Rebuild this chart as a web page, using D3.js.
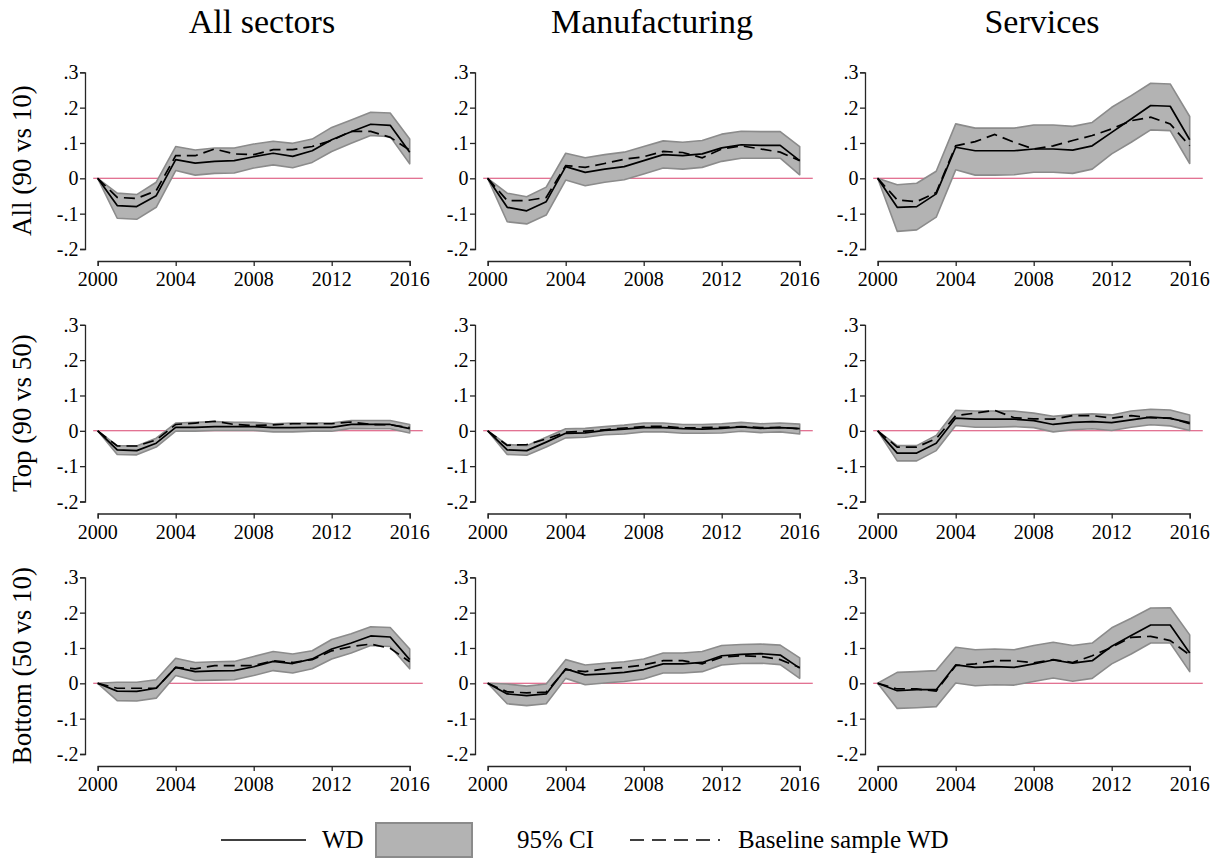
<!DOCTYPE html>
<html>
<head>
<meta charset="utf-8">
<script src="https://cdn.jsdelivr.net/npm/d3@7"></script>
<style>
  body { margin: 0; background: #fff; }
  svg { display: block; }
  text { font-family: "Liberation Serif", "Times New Roman", serif; fill: #000; }
</style>
</head>
<body>
<svg id="chart" width="1220" height="861"></svg>
<script>
// ---- categories and labels ----
const years = [2000, 2001, 2002, 2003, 2004, 2005, 2006, 2007, 2008, 2009, 2010, 2011, 2012, 2013, 2014, 2015, 2016];
const sectors = ["All sectors", "Manufacturing", "Services"];
const gaps = ["All (90 vs 10)", "Top (90 vs 50)", "Bottom (50 vs 10)"];
const yTickValues = [-0.2, -0.1, 0, 0.1, 0.2, 0.3];
const yTickLabels = ["-.2", "-.1", "0", ".1", ".2", ".3"];
const xTickValues = [2000, 2004, 2008, 2012, 2016];
const xTickLabels = ["2000", "2004", "2008", "2012", "2016"];
const legendLabels = ["WD", "95% CI", "Baseline sample WD"];

// ---- All (90 vs 10) ----
const wdAllTotal   = [0, -0.077, -0.080, -0.049, 0.053, 0.043, 0.048, 0.050, 0.061, 0.071, 0.062, 0.078, 0.109, 0.132, 0.153, 0.150, 0.074];
const baseAllTotal = [0, -0.054, -0.057, -0.035, 0.064, 0.064, 0.083, 0.069, 0.067, 0.081, 0.081, 0.090, 0.107, 0.133, 0.133, 0.116, 0.080];
const loAllTotal   = [0, -0.113, -0.116, -0.082, 0.022, 0.009, 0.014, 0.015, 0.029, 0.038, 0.030, 0.045, 0.076, 0.099, 0.121, 0.118, 0.041];
const hiAllTotal   = [0, -0.042, -0.046, -0.011, 0.090, 0.080, 0.086, 0.086, 0.097, 0.105, 0.099, 0.111, 0.144, 0.165, 0.187, 0.185, 0.111];

const wdAllManuf   = [0, -0.082, -0.092, -0.066, 0.033, 0.017, 0.026, 0.033, 0.050, 0.067, 0.064, 0.069, 0.086, 0.095, 0.093, 0.093, 0.050];
const baseAllManuf = [0, -0.063, -0.063, -0.054, 0.036, 0.031, 0.042, 0.054, 0.061, 0.076, 0.073, 0.058, 0.083, 0.092, 0.083, 0.074, 0.050];
const loAllManuf   = [0, -0.123, -0.129, -0.104, -0.005, -0.021, -0.011, -0.004, 0.012, 0.029, 0.026, 0.031, 0.048, 0.057, 0.057, 0.057, 0.010];
const hiAllManuf   = [0, -0.042, -0.052, -0.025, 0.071, 0.058, 0.067, 0.074, 0.090, 0.106, 0.102, 0.107, 0.125, 0.133, 0.132, 0.132, 0.090];

const wdAllServ    = [0, -0.082, -0.080, -0.044, 0.088, 0.078, 0.078, 0.078, 0.083, 0.083, 0.080, 0.092, 0.130, 0.168, 0.206, 0.204, 0.109];
const baseAllServ  = [0, -0.061, -0.066, -0.040, 0.092, 0.104, 0.124, 0.102, 0.083, 0.092, 0.107, 0.121, 0.140, 0.163, 0.173, 0.154, 0.092];
const loAllServ    = [0, -0.150, -0.146, -0.110, 0.024, 0.009, 0.009, 0.010, 0.017, 0.017, 0.014, 0.026, 0.069, 0.102, 0.137, 0.135, 0.042];
const hiAllServ    = [0, -0.018, -0.014, 0.020, 0.154, 0.142, 0.142, 0.142, 0.151, 0.151, 0.147, 0.158, 0.201, 0.234, 0.269, 0.267, 0.175];

// ---- Top (90 vs 50) ----
const wdTopTotal   = [0, -0.054, -0.056, -0.035, 0.010, 0.010, 0.012, 0.012, 0.012, 0.009, 0.009, 0.010, 0.010, 0.018, 0.018, 0.018, 0.006];
const baseTopTotal = [0, -0.043, -0.043, -0.026, 0.018, 0.022, 0.027, 0.018, 0.015, 0.017, 0.020, 0.020, 0.020, 0.025, 0.018, 0.017, 0.009];
const loTopTotal   = [0, -0.067, -0.068, -0.046, -0.001, -0.001, 0.001, 0.001, 0.001, -0.003, -0.003, -0.001, -0.001, 0.007, 0.006, 0.006, -0.006];
const hiTopTotal   = [0, -0.042, -0.043, -0.021, 0.022, 0.024, 0.026, 0.024, 0.024, 0.020, 0.022, 0.022, 0.022, 0.029, 0.029, 0.029, 0.018];

const wdTopManuf   = [0, -0.054, -0.056, -0.032, -0.007, -0.006, 0.001, 0.005, 0.009, 0.009, 0.006, 0.005, 0.007, 0.011, 0.007, 0.009, 0.006];
const baseTopManuf = [0, -0.041, -0.039, -0.023, -0.004, -0.001, 0.003, 0.008, 0.012, 0.013, 0.008, 0.009, 0.010, 0.012, 0.009, 0.010, 0.006];
const loTopManuf   = [0, -0.067, -0.069, -0.046, -0.020, -0.018, -0.011, -0.009, -0.003, -0.003, -0.007, -0.007, -0.006, -0.001, -0.005, -0.003, -0.009];
const hiTopManuf   = [0, -0.039, -0.042, -0.018, 0.006, 0.007, 0.012, 0.016, 0.022, 0.022, 0.018, 0.018, 0.020, 0.024, 0.020, 0.022, 0.019];

const wdTopServ    = [0, -0.063, -0.063, -0.035, 0.036, 0.033, 0.033, 0.033, 0.029, 0.018, 0.024, 0.026, 0.023, 0.031, 0.039, 0.035, 0.023];
const baseTopServ  = [0, -0.046, -0.046, -0.022, 0.043, 0.050, 0.058, 0.037, 0.034, 0.033, 0.043, 0.043, 0.036, 0.043, 0.037, 0.036, 0.020];
const loTopServ    = [0, -0.085, -0.085, -0.056, 0.015, 0.010, 0.010, 0.012, 0.009, -0.003, 0.003, 0.006, 0.001, 0.010, 0.017, 0.014, 0.001];
const hiTopServ    = [0, -0.042, -0.042, -0.013, 0.058, 0.056, 0.056, 0.056, 0.050, 0.041, 0.046, 0.048, 0.045, 0.056, 0.061, 0.059, 0.045];

// ---- Bottom (50 vs 10) ----
const wdBotTotal   = [0, -0.022, -0.023, -0.014, 0.045, 0.033, 0.035, 0.036, 0.047, 0.062, 0.056, 0.069, 0.097, 0.114, 0.134, 0.131, 0.067];
const baseBotTotal = [0, -0.014, -0.014, -0.014, 0.045, 0.041, 0.050, 0.050, 0.050, 0.064, 0.059, 0.067, 0.092, 0.104, 0.111, 0.099, 0.061];
const loBotTotal   = [0, -0.049, -0.050, -0.042, 0.022, 0.008, 0.009, 0.010, 0.022, 0.036, 0.029, 0.041, 0.069, 0.086, 0.107, 0.104, 0.041];
const hiBotTotal   = [0, 0.003, 0.003, 0.010, 0.071, 0.059, 0.061, 0.062, 0.076, 0.090, 0.083, 0.092, 0.124, 0.140, 0.160, 0.158, 0.097];

const wdBotManuf   = [0, -0.030, -0.035, -0.030, 0.041, 0.024, 0.027, 0.031, 0.039, 0.055, 0.055, 0.059, 0.078, 0.082, 0.084, 0.080, 0.043];
const baseBotManuf = [0, -0.024, -0.027, -0.025, 0.039, 0.033, 0.041, 0.045, 0.052, 0.064, 0.064, 0.055, 0.074, 0.078, 0.076, 0.067, 0.045];
const loBotManuf   = [0, -0.058, -0.063, -0.058, 0.014, -0.004, 0.001, 0.005, 0.012, 0.029, 0.029, 0.033, 0.052, 0.056, 0.057, 0.053, 0.014];
const hiBotManuf   = [0, -0.002, -0.008, -0.002, 0.067, 0.052, 0.057, 0.061, 0.069, 0.086, 0.086, 0.090, 0.107, 0.110, 0.111, 0.108, 0.072];

const wdBotServ    = [0, -0.021, -0.018, -0.018, 0.052, 0.045, 0.047, 0.045, 0.055, 0.066, 0.057, 0.064, 0.105, 0.135, 0.165, 0.165, 0.086];
const baseBotServ  = [0, -0.016, -0.016, -0.022, 0.050, 0.055, 0.064, 0.064, 0.058, 0.067, 0.059, 0.078, 0.102, 0.130, 0.133, 0.121, 0.080];
const loBotServ    = [0, -0.071, -0.069, -0.066, 0.001, -0.007, -0.004, -0.005, 0.005, 0.015, 0.006, 0.014, 0.055, 0.083, 0.114, 0.114, 0.033];
const hiBotServ    = [0, 0.031, 0.033, 0.036, 0.102, 0.095, 0.097, 0.095, 0.107, 0.116, 0.107, 0.114, 0.157, 0.184, 0.213, 0.214, 0.137];

// panel grid: rows = gap measure, columns = sector
const panels = [
  [{ wd: wdAllTotal, base: baseAllTotal, lo: loAllTotal, hi: hiAllTotal },
   { wd: wdAllManuf, base: baseAllManuf, lo: loAllManuf, hi: hiAllManuf },
   { wd: wdAllServ,  base: baseAllServ,  lo: loAllServ,  hi: hiAllServ }],
  [{ wd: wdTopTotal, base: baseTopTotal, lo: loTopTotal, hi: hiTopTotal },
   { wd: wdTopManuf, base: baseTopManuf, lo: loTopManuf, hi: hiTopManuf },
   { wd: wdTopServ,  base: baseTopServ,  lo: loTopServ,  hi: hiTopServ }],
  [{ wd: wdBotTotal, base: baseBotTotal, lo: loBotTotal, hi: hiBotTotal },
   { wd: wdBotManuf, base: baseBotManuf, lo: loBotManuf, hi: hiBotManuf },
   { wd: wdBotServ,  base: baseBotServ,  lo: loBotServ,  hi: hiBotServ }]
];

// ---- styling / layout ----
const BAND_FILL = "#b3b3b3", BAND_EDGE = "#8b8b8b", ZERO_LINE = "#d9456f", AXIS = "#262626";
const colStep = 390, rowStep = 252.5;
const firstX0 = 97.7, firstX1 = 409.7, firstYTop = 72.3, plotH = 176.7;
const tickLabelSize = 20, titleSize = 34, rowLabelSize = 27, legendSize = 25;

const svg = d3.select("#chart");

function label(g, x, y, str, size, anchor) {
  return g.append("text")
    .attr("x", x).attr("y", y)
    .attr("text-anchor", anchor || "start")
    .style("font-size", size + "px")
    .text(str);
}

panels.forEach((row, r) => {
  row.forEach((p, c) => {
    const x = d3.scaleLinear().domain([2000, 2016]).range([firstX0 + c * colStep, firstX1 + c * colStep]);
    const yTop = firstYTop + r * rowStep;
    const y = d3.scaleLinear().domain([-0.2, 0.3]).range([yTop + plotH, yTop]);
    const g = svg.append("g");

    // zero reference line across the plot region
    g.append("line")
      .attr("x1", x(1999.77)).attr("x2", x(2016.67))
      .attr("y1", y(0)).attr("y2", y(0))
      .attr("stroke", ZERO_LINE).attr("stroke-width", 1.1);

    // 95% confidence band
    const band = d3.area()
      .x((d, i) => x(years[i]))
      .y0((d, i) => y(p.lo[i]))
      .y1((d, i) => y(p.hi[i]));
    g.append("path").datum(years)
      .attr("d", band)
      .attr("fill", BAND_FILL).attr("stroke", BAND_EDGE)
      .attr("stroke-width", 1.6).attr("stroke-linejoin", "round");

    const line = key => d3.line()
      .x((d, i) => x(years[i]))
      .y((d, i) => y(p[key][i]));

    // baseline sample estimate (dashed)
    g.append("path").datum(years)
      .attr("d", line("base"))
      .attr("fill", "none").attr("stroke", "#000")
      .attr("stroke-width", 1.7).attr("stroke-dasharray", "11,6");

    // WD estimate (solid)
    g.append("path").datum(years)
      .attr("d", line("wd"))
      .attr("fill", "none").attr("stroke", "#000")
      .attr("stroke-width", 1.7).attr("stroke-linejoin", "round");

    // y axis
    const yAxisX = x(2000) - 12.7;
    const ya = g.append("g").attr("transform", `translate(${yAxisX},0)`)
      .call(d3.axisLeft(y).tickValues(yTickValues)
        .tickFormat((d, i) => yTickLabels[i]).tickSizeOuter(0).tickSize(5));
    ya.select(".domain").attr("stroke", AXIS).attr("stroke-width", 1.3);
    ya.selectAll(".tick line").attr("stroke", AXIS).attr("stroke-width", 1.3);
    ya.selectAll(".tick text").remove();
    yTickValues.forEach((v, i) => label(ya, -6.5, y(v) + 7, yTickLabels[i], tickLabelSize, "end"));

    // x axis
    const xAxisY = yTop + plotH + 12;
    const xa = g.append("g").attr("transform", `translate(0,${xAxisY})`)
      .call(d3.axisBottom(x).tickValues(xTickValues)
        .tickFormat((d, i) => xTickLabels[i]).tickSizeOuter(0).tickSize(5));
    xa.select(".domain").attr("stroke", AXIS).attr("stroke-width", 1.3);
    xa.selectAll(".tick line").attr("stroke", AXIS).attr("stroke-width", 1.3);
    xa.selectAll(".tick text").remove();
    xTickValues.forEach((v, i) => label(xa, x(v), 25, xTickLabels[i], tickLabelSize, "middle"));

    // column titles on the first row
    if (r === 0) {
      label(svg, (x(1999.77) + x(2016.67)) / 2 + 4, 33, sectors[c], titleSize, "middle");
    }
    // row labels on the first column
    if (c === 0) {
      const cy = (y(0.3) + y(-0.2)) / 2;
      svg.append("text")
        .attr("transform", `translate(31,${cy}) rotate(-90)`)
        .attr("text-anchor", "middle")
        .style("font-size", rowLabelSize + "px")
        .text(gaps[r]);
    }
  });
});

// ---- legend ----
const lg = svg.append("g");
const legY = 840;
lg.append("line").attr("x1", 221).attr("x2", 306).attr("y1", legY).attr("y2", legY)
  .attr("stroke", "#000").attr("stroke-width", 1.7);
label(lg, 322, legY + 8, legendLabels[0], legendSize);
lg.append("rect").attr("x", 376).attr("y", legY - 17).attr("width", 96).attr("height", 34)
  .attr("fill", BAND_FILL).attr("stroke", BAND_EDGE).attr("stroke-width", 2);
label(lg, 517, legY + 8, legendLabels[1], legendSize);
lg.append("line").attr("x1", 630).attr("x2", 720).attr("y1", legY).attr("y2", legY)
  .attr("stroke", "#000").attr("stroke-width", 1.7).attr("stroke-dasharray", "14,8");
label(lg, 738, legY + 8, legendLabels[2], legendSize);
</script>
</body>
</html>
